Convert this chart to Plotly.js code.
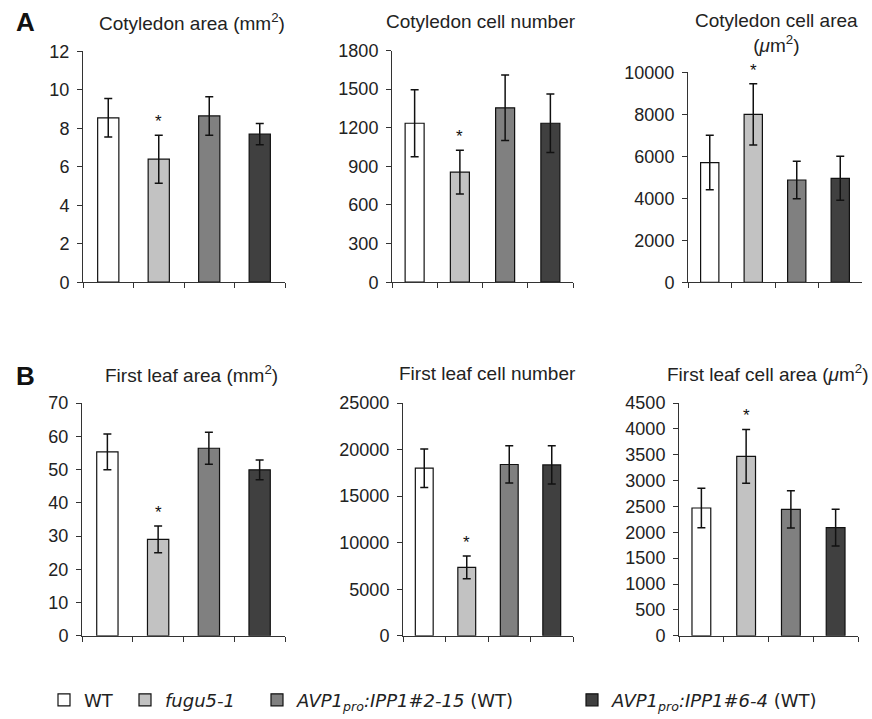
<!DOCTYPE html>
<html>
<head>
<meta charset="utf-8">
<script src="https://cdn.plot.ly/plotly-3.0.1.min.js"></script>
<style>html,body{margin:0;padding:0;background:#fff;}#chart{width:872px;height:719px;}</style>
</head>
<body>
<div id="chart"></div>
<script>
// ---- data ----
const categories = ['WT', 'fugu5-1', 'AVP1pro:IPP1#2-15 (WT)', 'AVP1pro:IPP1#6-4 (WT)'];
const legendNames = ['WT', '<i>fugu5-1</i>', '<i>AVP1<sub>pro</sub>:IPP1#2-15</i> (WT)', '<i>AVP1<sub>pro</sub>:IPP1#6-4</i> (WT)'];
const barColors = ['#ffffff', '#c2c2c2', '#808080', '#404040'];

const panelTitles = [
  'Cotyledon area (mm<sup>2</sup>)',
  'Cotyledon cell number',
  'Cotyledon cell area<br>(<i>μ</i>m<sup>2</sup>)',
  'First leaf area (mm<sup>2</sup>)',
  'First leaf cell number',
  'First leaf cell area (<i>μ</i>m<sup>2</sup>)'
];

const cotyledonArea      = [8.55, 6.4, 8.65, 7.7];
const cotyledonAreaErr   = [1.0, 1.25, 1.0, 0.55];
const cotyledonCellNum   = [1235, 855, 1355, 1235];
const cotyledonCellNumErr= [260, 170, 255, 228];
const cotyledonCellArea  = [5700, 8000, 4870, 4950];
const cotyledonCellAreaErr = [1300, 1460, 890, 1050];
const leafArea           = [55.3, 29.0, 56.4, 49.9];
const leafAreaErr        = [5.4, 4.0, 4.8, 3.0];
const leafCellNum        = [18000, 7350, 18400, 18350];
const leafCellNumErr     = [2070, 1230, 2000, 2050];
const leafCellArea       = [2470, 3470, 2445, 2090];
const leafCellAreaErr    = [380, 520, 360, 355];

const significant = [false, true, false, false]; // asterisk on fugu5-1

const yMax  = [12, 1800, 10000, 70, 25000, 4500];
const yStep = [2, 300, 2000, 10, 5000, 500];

// ---- layout helpers (pixel positions) ----
const W = 872, H = 719;
const panelBoxes = [ // [x0, x1, yTop, yBottom] in px
  [83, 285, 52, 285],
  [392, 573, 51, 285],
  [688, 862, 73, 285],
  [82, 285, 407, 642],
  [403, 573, 407, 642],
  [679, 858, 407, 642]
];
const titlePos = [[192, 22], [481, 22], [776, 33], [191, 378], [487, 377], [768, 377]];

const values = [cotyledonArea, cotyledonCellNum, cotyledonCellArea, leafArea, leafCellNum, leafCellArea];
const errors = [cotyledonAreaErr, cotyledonCellNumErr, cotyledonCellAreaErr, leafAreaErr, leafCellNumErr, leafCellAreaErr];

const font = 'Liberation Sans, Arial, Helvetica, sans-serif';
const traces = [];
const layout = {
  width: W, height: H,
  margin: {l: 0, r: 0, t: 0, b: 0},
  paper_bgcolor: '#fff', plot_bgcolor: 'rgba(0,0,0,0)',
  barmode: 'overlay',
  font: {family: font, color: '#222', size: 18},
  annotations: [],
  showlegend: true
};

const legendKeys = ['legend', 'legend2', 'legend3', 'legend4'];
const legendX = [44, 125, 257, 572];

for (let p = 0; p < 6; p++) {
  const ax = p === 0 ? '' : String(p + 1);
  const vals = values[p], errs = errors[p];
  for (let g = 0; g < 4; g++) {
    traces.push({
      type: 'bar',
      x: [categories[g]],
      y: [vals[g]],
      width: 0.42,
      name: legendNames[g],
      legend: legendKeys[g],
      legendgroup: 'g' + g,
      showlegend: p === 0,
      marker: {color: barColors[g], line: {color: '#111', width: 1.2}},
      error_y: {type: 'data', array: [errs[g]], visible: true, color: '#111', thickness: 1.5, width: 4},
      xaxis: 'x' + ax, yaxis: 'y' + ax,
      hoverinfo: 'skip'
    });
    if (significant[g]) {
      layout.annotations.push({
        xref: 'x' + ax, yref: 'y' + ax,
        x: categories[g], y: vals[g] + errs[g],
        text: '*', showarrow: false, yanchor: 'bottom', yshift: 2,
        font: {size: 17, color: '#111'}
      });
    }
  }
  const b = panelBoxes[p];
  layout['xaxis' + ax] = {
    domain: [b[0] / W, b[1] / W],
    anchor: 'y' + ax,
    type: 'category', categoryarray: categories, categoryorder: 'array',
    range: [-0.5, 3.5],
    showticklabels: false, ticks: 'outside', tickson: 'boundaries',
    ticklen: 5, tickwidth: 1, tickcolor: '#333',
    showline: true, linecolor: '#333', linewidth: 1,
    showgrid: false, zeroline: false, fixedrange: true
  };
  layout['yaxis' + ax] = {
    domain: [1 - b[3] / H, 1 - b[2] / H],
    anchor: 'x' + ax,
    range: [0, yMax[p]], dtick: yStep[p], tick0: 0, tickformat: 'd',
    ticks: 'outside', ticklen: 5, tickwidth: 1, tickcolor: '#333',
    ticklabelstandoff: 4,
    showline: true, linecolor: '#333', linewidth: 1,
    showgrid: false, zeroline: false, fixedrange: true,
    tickfont: {size: 18, color: '#222'}
  };
  layout.annotations.push({
    xref: 'paper', yref: 'paper',
    x: titlePos[p][0] / W, y: 1 - titlePos[p][1] / H,
    xanchor: 'center', yanchor: 'middle',
    text: panelTitles[p], showarrow: false,
    font: {size: 19, color: '#222'}
  });
}

// panel letters
[['A', 25, 22], ['B', 25, 380]].forEach(([t, x, y]) => {
  layout.annotations.push({
    xref: 'paper', yref: 'paper', x: x / W, y: 1 - y / H,
    xanchor: 'center', yanchor: 'middle', text: '<b>' + t + '</b>', showarrow: false,
    font: {size: 26, color: '#111', family: font}
  });
});

// legends
for (let g = 0; g < 4; g++) {
  layout[legendKeys[g]] = {
    x: legendX[g] / W, y: 1 - 707 / H, xanchor: 'left', yanchor: 'middle',
    orientation: 'h', bgcolor: 'rgba(0,0,0,0)', borderwidth: 0,
    itemwidth: 30,
    font: {size: 18, color: '#222', family: 'DejaVu Sans, Verdana, sans-serif'}
  };
}

Plotly.newPlot('chart', traces, layout, {displayModeBar: false, staticPlot: true});
</script>
</body>
</html>
